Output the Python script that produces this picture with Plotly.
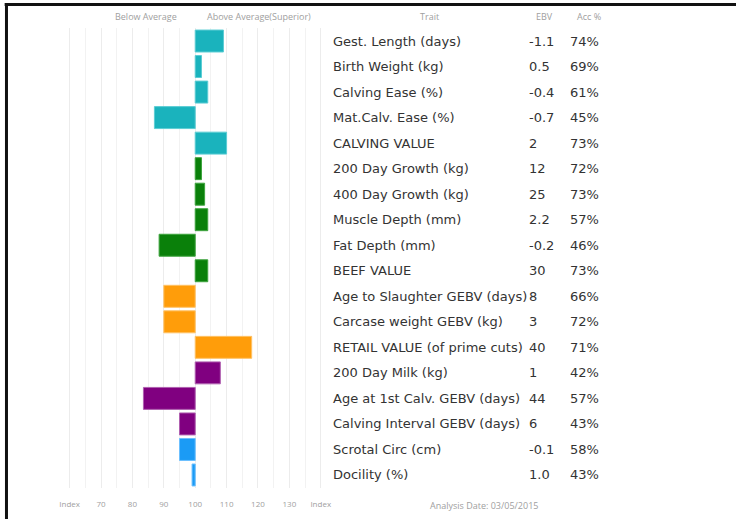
import plotly.graph_objects as go

# trait rows, top to bottom
traits = [
    "Gest. Length (days)", "Birth Weight (kg)", "Calving Ease (%)", "Mat.Calv. Ease (%)",
    "CALVING VALUE", "200 Day Growth (kg)", "400 Day Growth (kg)", "Muscle Depth (mm)",
    "Fat Depth (mm)", "BEEF VALUE", "Age to Slaughter GEBV (days)", "Carcase weight GEBV (kg)",
    "RETAIL VALUE (of prime cuts)", "200 Day Milk (kg)", "Age at 1st Calv. GEBV (days)",
    "Calving Interval GEBV (days)", "Scrotal Circ (cm)", "Docility (%)",
]
ebv = ["-1.1", "0.5", "-0.4", "-0.7", "2", "12", "25", "2.2", "-0.2", "30",
       "8", "3", "40", "1", "44", "6", "-0.1", "1.0"]
acc = ["74%", "69%", "61%", "45%", "73%", "72%", "73%", "57%", "46%", "73%",
       "66%", "72%", "71%", "42%", "57%", "43%", "58%", "43%"]
index_vals = [109, 102, 104, 87, 110, 102, 103, 104, 88.5, 104,
              90, 90, 118, 108, 83.5, 95, 95, 99]
groups = ["calving"] * 5 + ["beef"] * 5 + ["carcase"] * 3 + ["maternal"] * 3 + ["other"] * 2

tick_vals = [60, 70, 80, 90, 100, 110, 120, 130, 140]
tick_text = ["Index", "70", "80", "90", "100", "110", "120", "130", "Index"]

color_map = {
    "calving": ("#1ab3bd", "#5ccdd4"),
    "beef": ("#0a800a", "#3fa43f"),
    "carcase": ("#ff9d0a", "#ffc266"),
    "maternal": ("#800080", "#b060b0"),
    "other": ("#1b9bf5", "#6cc0ff"),
}

W, H = 738, 519
x0, x1 = 59.5, 330.5
y_top, y_bot = 28.25, 487.75

fig = go.Figure()
fig.add_bar(
    y=traits,
    x=[v - 100 for v in index_vals],
    base=100,
    orientation="h",
    width=0.86,
    marker=dict(
        color=[color_map[g][0] for g in groups],
        line=dict(color=[color_map[g][1] for g in groups], width=1),
    ),
    hoverinfo="skip",
)

# table text on the right
txt_font = dict(family="DejaVu Sans", size=13, color="#333333")
ann = []
for t, e, a in zip(traits, ebv, acc):
    ann.append(dict(x=331 / W, y=t, xref="paper", yref="y", text=t, xanchor="left",
                    showarrow=False, font=txt_font))
    ann.append(dict(x=528 / W, y=t, xref="paper", yref="y", text=e, xanchor="left",
                    showarrow=False, font=txt_font))
    ann.append(dict(x=569 / W, y=t, xref="paper", yref="y", text=a, xanchor="left",
                    showarrow=False, font=txt_font))

hdr_font = dict(family="Open Sans", size=9, color="#a0a0a0")
for x, label in [(146, "Below Average"), (259, "Above Average(Superior)"),
                 (430, "Trait"), (546, "EBV"), (590, "Acc %")]:
    ann.append(dict(x=x / W, y=1 - 17 / H, xref="paper", yref="paper", text=label,
                    xanchor="center", yanchor="middle", showarrow=False, font=hdr_font))
ann.append(dict(x=485 / W, y=1 - 505 / H, xref="paper", yref="paper", xanchor="center",
                yanchor="middle", text="Analysis Date: 03/05/2015", showarrow=False,
                font=hdr_font))

fig.update_layout(
    width=W, height=H,
    margin=dict(l=0, r=0, t=0, b=0),
    plot_bgcolor="white",
    paper_bgcolor="white",
    showlegend=False,
    annotations=ann,
    shapes=[
        dict(type="line", xref="paper", yref="paper", x0=0.005, x1=1, y0=1 - 4.5 / H, y1=1 - 4.5 / H,
             line=dict(color="#111111", width=3)),
        dict(type="line", xref="paper", yref="paper", x0=5.5 / W, x1=5.5 / W, y0=0, y1=1 - 3 / H,
             line=dict(color="#111111", width=3)),
    ],
    xaxis=dict(
        domain=[x0 / W, x1 / W],
        range=[57, 143],
        tickvals=tick_vals,
        ticktext=tick_text,
        tickfont=dict(family="Open Sans", size=8, color="#a0a0a0"),
        ticks="",
        ticklabelstandoff=10,
        showgrid=True,
        gridcolor="#ececec",
        gridwidth=1,
        minor=dict(dtick=5, tick0=0, showgrid=True, gridcolor="#f2f2f2"),
        zeroline=False,
        showline=False,
        fixedrange=True,
    ),
    yaxis=dict(
        domain=[1 - y_bot / H, 1 - y_top / H],
        categoryorder="array",
        categoryarray=traits,
        autorange="reversed",
        showticklabels=False,
        showgrid=False,
        zeroline=False,
        fixedrange=True,
    ),
)

# drop the default page margin so the figure sits at the window's corner
fig.write_html("out.html", config={"displayModeBar": False},
               post_script="document.body.style.margin='0';")
